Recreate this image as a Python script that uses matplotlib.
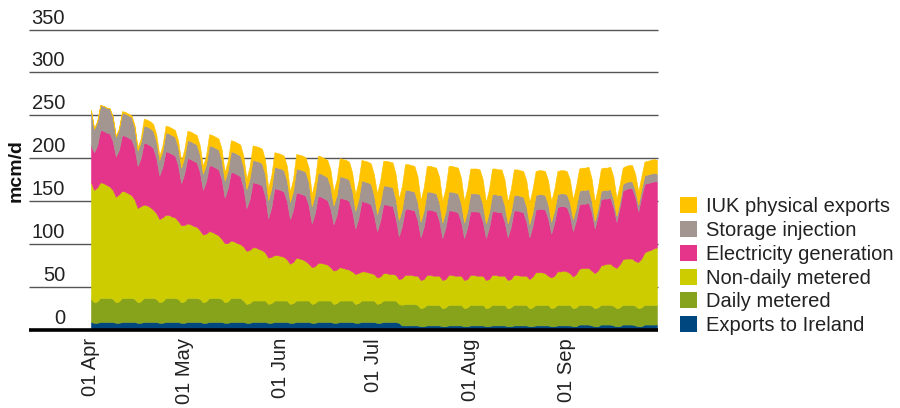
import matplotlib
matplotlib.use("Agg")
import matplotlib.pyplot as plt
import pandas as pd
from matplotlib.patches import Patch
from matplotlib.transforms import offset_copy

plt.rcParams['font.family'] = ['Liberation Sans', 'DejaVu Sans']

start_date = '2016-04-01'

ireland = [
    9, 8, 8, 9, 9, 9, 9,
    9, 8, 8, 9, 9, 9, 9,
    9, 8, 8, 9, 9, 9, 9,
    9, 8, 8, 9, 9, 9, 9,
    9, 8, 8, 9, 9, 9, 9,
    9, 8, 8, 9, 9, 9, 9,
    9, 8, 8, 9, 9, 9, 9,
    9, 8, 8, 9, 9, 9, 9,
    9, 8, 8, 9, 9, 9, 9,
    9, 8, 8, 9, 9, 9, 9,
    9, 8, 8, 9, 9, 9, 9,
    9, 8, 8, 9, 9, 9, 9,
    9, 8, 8, 9, 9, 9, 9,
    9, 8, 8, 9, 9, 9, 9,
    9, 8, 5, 5, 5, 5, 5,
    5, 4, 4, 5, 5, 5, 5,
    5, 4, 4, 5, 5, 5, 5,
    5, 4, 4, 5, 5, 5, 5,
    5, 4, 4, 5, 5, 5, 5,
    5, 4, 4, 5, 5, 5, 5,
    5, 4, 4, 5, 5, 5, 5,
    5, 4, 4, 5, 5, 5, 5,
    5, 4, 4, 6, 6, 6, 6,
    5, 4, 4, 6, 6, 6, 6,
    5, 4, 4, 6, 6, 6, 6,
    5, 4, 4, 6, 6, 6, 6,
    6,
]

daily_metered = [
    27, 24, 25, 28, 28, 28, 28,
    27, 24, 25, 28, 28, 28, 28,
    27, 24, 25, 28, 28, 28, 28,
    27, 24, 25, 28, 28, 28, 28,
    27, 24, 25, 28, 28, 28, 28,
    27, 24, 25, 28, 28, 28, 28,
    27, 24, 25, 28, 28, 28, 28,
    25, 22, 23, 25, 25, 25, 25,
    25, 22, 23, 25, 25, 25, 25,
    25, 22, 23, 25, 25, 25, 25,
    25, 22, 23, 25, 25, 25, 25,
    25, 22, 23, 25, 25, 25, 25,
    25, 22, 23, 25, 25, 25, 25,
    25, 22, 23, 25, 25, 25, 25,
    25, 22, 24, 25, 25, 25, 25,
    24, 21, 22, 24, 24, 24, 24,
    24, 21, 22, 24, 24, 24, 24,
    24, 21, 22, 24, 24, 24, 24,
    24, 21, 22, 24, 24, 24, 24,
    24, 21, 22, 24, 24, 24, 24,
    24, 21, 22, 24, 24, 24, 24,
    24, 21, 22, 24, 24, 24, 24,
    24, 21, 22, 23, 23, 23, 23,
    23, 21, 22, 23, 23, 23, 23,
    23, 21, 22, 23, 23, 23, 23,
    23, 21, 22, 23, 23, 23, 23,
    23,
]

non_daily_metered = [
    136, 131, 133, 135, 134, 132, 130,
    127, 123, 125, 125, 124, 122, 120,
    116, 110, 111, 109, 108, 106, 103,
    100, 97, 98, 97, 97, 95, 94,
    91, 90, 89, 87, 86, 84, 83,
    80, 79, 79, 78, 77, 75, 73,
    70, 69, 68, 67, 66, 64, 63,
    63, 62, 62, 62, 62, 60, 59,
    56, 54, 54, 53, 53, 52, 51,
    48, 47, 48, 50, 49, 48, 46,
    43, 43, 43, 44, 44, 43, 42,
    39, 39, 39, 39, 38, 37, 36,
    34, 35, 35, 34, 34, 33, 32,
    31, 31, 31, 32, 32, 31, 31,
    30, 29, 31, 34, 34, 34, 33,
    34, 33, 33, 35, 35, 34, 34,
    34, 33, 33, 35, 35, 34, 34,
    34, 33, 33, 35, 35, 34, 34,
    34, 33, 33, 35, 35, 34, 34,
    34, 33, 33, 35, 35, 34, 34,
    34, 34, 36, 38, 38, 38, 37,
    34, 36, 37, 39, 39, 40, 39,
    37, 37, 39, 42, 43, 43, 43,
    41, 41, 43, 46, 47, 48, 48,
    46, 47, 50, 53, 54, 54, 54,
    52, 54, 57, 61, 63, 64, 66,
    67,
]

electricity_generation = [
    43, 44, 49, 61, 61, 61, 62,
    57, 47, 52, 65, 65, 65, 65,
    60, 49, 56, 72, 72, 72, 72,
    64, 51, 59, 74, 73, 73, 72,
    65, 49, 60, 76, 76, 76, 75,
    68, 52, 61, 77, 77, 77, 77,
    70, 53, 64, 80, 80, 80, 79,
    69, 50, 59, 76, 75, 76, 75,
    66, 46, 58, 78, 77, 77, 76,
    68, 52, 61, 76, 76, 76, 76,
    68, 51, 62, 78, 77, 76, 75,
    68, 54, 64, 81, 81, 81, 80,
    70, 53, 64, 82, 81, 81, 80,
    69, 54, 65, 80, 80, 80, 79,
    66, 50, 61, 77, 77, 76, 76,
    65, 50, 61, 76, 76, 76, 75,
    64, 49, 60, 75, 75, 75, 74,
    63, 49, 60, 74, 74, 75, 74,
    63, 49, 60, 74, 74, 74, 74,
    63, 50, 61, 75, 75, 75, 74,
    63, 49, 59, 73, 74, 74, 74,
    67, 51, 62, 75, 76, 75, 75,
    67, 53, 63, 75, 75, 75, 76,
    68, 52, 64, 77, 77, 76, 77,
    69, 54, 66, 80, 81, 82, 82,
    75, 59, 72, 80, 79, 79, 78,
    77,
]

storage_injection = [
    41, 27, 28, 29, 29, 29, 29,
    28, 23, 24, 26, 26, 26, 26,
    24, 18, 19, 20, 20, 20, 20,
    20, 18, 19, 22, 22, 22, 22,
    21, 18, 19, 21, 21, 21, 21,
    20, 19, 20, 23, 23, 23, 23,
    22, 20, 21, 24, 24, 24, 24,
    24, 22, 24, 26, 26, 26, 26,
    25, 21, 22, 25, 25, 25, 25,
    24, 20, 22, 28, 28, 28, 28,
    27, 20, 22, 27, 27, 27, 27,
    26, 22, 23, 25, 25, 25, 25,
    24, 21, 22, 24, 24, 24, 24,
    23, 20, 21, 22, 22, 22, 22,
    22, 19, 20, 22, 22, 22, 22,
    21, 18, 19, 21, 21, 21, 21,
    21, 18, 19, 22, 22, 22, 22,
    21, 18, 19, 21, 21, 21, 21,
    20, 17, 18, 20, 20, 20, 20,
    19, 16, 17, 18, 18, 18, 18,
    18, 15, 16, 17, 17, 17, 17,
    16, 14, 14, 15, 15, 15, 15,
    15, 14, 15, 16, 16, 16, 16,
    13, 9, 9, 10, 10, 10, 10,
    9, 7, 7, 8, 8, 8, 8,
    8, 8, 9, 10, 10, 10, 10,
    9,
]

iuk_exports = [
    0, 1, 0, 0, 0, 0, 0,
    1, 1, 1, 2, 2, 2, 2,
    3, 4, 4, 8, 8, 8, 8,
    8, 5, 6, 8, 8, 8, 8,
    8, 8, 9, 11, 11, 11, 11,
    11, 9, 10, 13, 13, 13, 13,
    13, 10, 11, 13, 13, 13, 13,
    13, 12, 14, 17, 17, 17, 17,
    17, 14, 15, 17, 17, 17, 17,
    17, 12, 14, 17, 17, 17, 17,
    17, 14, 16, 20, 20, 20, 20,
    20, 16, 18, 21, 21, 21, 21,
    21, 19, 21, 24, 24, 24, 24,
    24, 24, 26, 29, 29, 29, 29,
    29, 25, 27, 30, 30, 30, 30,
    30, 25, 27, 30, 30, 30, 30,
    30, 25, 27, 30, 30, 30, 30,
    30, 25, 27, 29, 29, 29, 29,
    29, 25, 27, 30, 30, 30, 30,
    30, 25, 27, 30, 30, 30, 30,
    30, 25, 27, 28, 28, 28, 28,
    28, 24, 25, 27, 27, 27, 27,
    27, 23, 25, 26, 26, 26, 26,
    26, 22, 24, 26, 26, 26, 26,
    26, 20, 20, 19, 19, 19, 19,
    19, 15, 15, 16, 16, 16, 16,
    16,
]

series_labels = ['Exports to Ireland', 'Daily metered', 'Non-daily metered',
                 'Electricity generation', 'Storage injection', 'IUK physical exports']
series_colors = ['#00467F', '#87A21B', '#CCCC00', '#E4358B', '#A39690', '#FFC300']

month_ticks = ['2016-04-01', '2016-05-01', '2016-06-01', '2016-07-01', '2016-08-01', '2016-09-01']
month_labels = ['01 Apr', '01 May', '01 Jun', '01 Jul', '01 Aug', '01 Sep']
y_ticks = [0, 50, 100, 150, 200, 250, 300, 350]

dates = pd.date_range(start_date, periods=len(ireland), freq='D')

fig = plt.figure(figsize=(9, 4.08), dpi=100)
ax = fig.add_axes([88 / 900, 1 - 329.7 / 408, 570 / 900, 300.1 / 408])

polys = ax.stackplot(dates, ireland, daily_metered, non_daily_metered,
                     electricity_generation, storage_injection, iuk_exports,
                     colors=series_colors, zorder=2)
for p, c in zip(polys, series_colors):
    p.set_edgecolor(c)
    p.set_linewidth(0.4)

ax.set_xlim(dates[0] - pd.Timedelta(days=0.95), dates[-1] + pd.Timedelta(days=0.35))
ax.set_ylim(0, 350)

for s in ax.spines.values():
    s.set_visible(False)

grid_left = (29 - 88) / 570
ytr = ax.get_yaxis_transform()
for v in y_ticks:
    if v == 0:
        ax.plot([grid_left, 1.0], [v, v], transform=ytr, color='black', lw=2.6,
                clip_on=False, zorder=5, solid_capstyle='butt')
    else:
        ax.plot([grid_left, 1.0], [v, v], transform=ytr, color='#555555', lw=1.0,
                clip_on=False, zorder=1, solid_capstyle='butt')

label_tr = offset_copy(ytr, fig=fig, x=0, y=6, units='dots')
for v in y_ticks:
    ax.text(-23 / 570, v, str(v), transform=label_tr, ha='right', va='baseline',
            fontsize=14.5, color='#222222')
ax.set_yticks([])

ax.set_xticks(pd.to_datetime(month_ticks))
ax.set_xticklabels(month_labels, rotation=90, fontsize=14.5, color='#222222',
                   ha='center', va='top')
ax.tick_params(axis='x', length=0, pad=6)

fig.text(16 / 900, 1 - 171 / 408, 'mcm/d', rotation=90, fontsize=14,
         fontweight='bold', ha='center', va='center', color='#111111')

handles = [Patch(facecolor=c, edgecolor='none') for c in series_colors][::-1]
fig.legend(handles, series_labels[::-1], loc='upper left',
           bbox_to_anchor=(680 / 900, 1 - 197 / 408), frameon=False,
           fontsize=14.5, handlelength=0.85, handleheight=0.85,
           handletextpad=0.45, labelspacing=0.24, borderpad=0,
           borderaxespad=0, labelcolor='#222222')

fig.savefig('out.png', dpi=100)
